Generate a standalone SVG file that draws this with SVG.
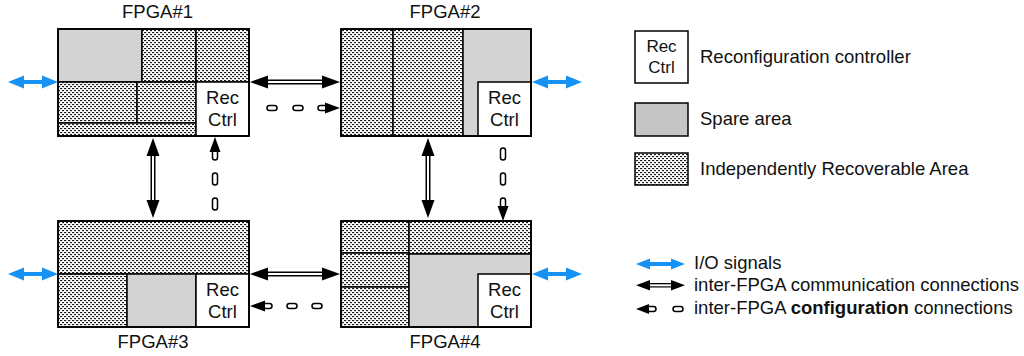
<svg xmlns="http://www.w3.org/2000/svg" width="1024" height="356" viewBox="0 0 1024 356">
  <defs>
    <!-- staggered dash texture for independently recoverable areas -->
    <pattern id="ira" width="4" height="4" patternUnits="userSpaceOnUse">
      <rect width="4" height="4" fill="#ffffff"/>
      <rect x="0" y="0" width="2.2" height="1.15" fill="#1a1a1a"/>
      <rect x="2" y="2" width="2.2" height="1.15" fill="#1a1a1a"/>
    </pattern>
    <style>
      .ira { fill: url(#ira); stroke: #000; stroke-width: 1.5; }
      .spare { fill: #d3d3d3; stroke: #000; stroke-width: 1.5; }
      .rec { fill: #ffffff; stroke: #000; stroke-width: 1.5; }
      .frame { fill: none; stroke: #000; stroke-width: 1.8; }
      text { font-family: "Liberation Sans", Arial, sans-serif; font-size: 18.5px; fill: #111; }
      .mid { text-anchor: middle; }
      .io { fill: #1692f4; }
      .head { fill: #000; }
      .shaft { fill: #000; }
      .inner { fill: #fff; }
      .cap { fill: #fff; stroke: #000; stroke-width: 1.5; }
    </style>
  </defs>

  <rect width="1024" height="356" fill="#ffffff"/>

  <!-- FPGA#1 -->
  <g id="fpga1">
    <rect class="spare" x="58" y="29" width="84" height="53"/>
    <rect class="ira" x="142" y="29" width="54" height="53"/>
    <rect class="ira" x="196" y="29" width="53" height="53"/>
    <rect class="ira" x="58" y="82" width="79" height="41"/>
    <rect class="ira" x="137" y="82" width="59" height="41"/>
    <rect class="ira" x="58" y="123" width="138" height="13"/>
    <rect class="rec" x="196" y="82" width="53" height="54"/>
    <rect class="frame" x="58" y="29" width="191" height="107"/>
    <text class="mid" x="222.5" y="104">Rec</text>
    <text class="mid" x="222.5" y="126">Ctrl</text>
    <text class="mid" x="157.5" y="18">FPGA#1</text>
  </g>

  <!-- FPGA#2 -->
  <g id="fpga2">
    <rect class="ira" x="341" y="29" width="52" height="107"/>
    <rect class="ira" x="393" y="29" width="70" height="107"/>
    <rect class="spare" x="463" y="29" width="68" height="107"/>
    <rect class="rec" x="478" y="82" width="53" height="54"/>
    <rect class="frame" x="341" y="29" width="190" height="107"/>
    <text class="mid" x="504.5" y="104">Rec</text>
    <text class="mid" x="504.5" y="126">Ctrl</text>
    <text class="mid" x="445" y="18">FPGA#2</text>
  </g>

  <!-- FPGA#3 -->
  <g id="fpga3">
    <rect class="ira" x="58" y="221" width="191" height="53"/>
    <rect class="ira" x="58" y="274" width="69" height="53"/>
    <rect class="spare" x="127" y="274" width="69" height="53"/>
    <rect class="rec" x="196" y="274" width="53" height="53"/>
    <rect class="frame" x="58" y="221" width="191" height="106"/>
    <text class="mid" x="222.5" y="296">Rec</text>
    <text class="mid" x="222.5" y="318">Ctrl</text>
    <text class="mid" x="153" y="348">FPGA#3</text>
  </g>

  <!-- FPGA#4 -->
  <g id="fpga4">
    <rect class="ira" x="341" y="221" width="68" height="32"/>
    <rect class="ira" x="341" y="253" width="68" height="34"/>
    <rect class="ira" x="341" y="287" width="68" height="40"/>
    <rect class="ira" x="409" y="221" width="122" height="33"/>
    <rect class="spare" x="409" y="254" width="122" height="73"/>
    <rect class="rec" x="478" y="274" width="53" height="53"/>
    <rect class="frame" x="341" y="221" width="190" height="106"/>
    <text class="mid" x="504.5" y="296">Rec</text>
    <text class="mid" x="504.5" y="318">Ctrl</text>
    <text class="mid" x="445" y="348">FPGA#4</text>
  </g>

  <!-- connectors -->
  <g id="connectors">
    <!-- I/O signals -->
    <polygon class="io" points="8,82 24,75.5 24,80 42,80 42,75.5 58,82 42,88.5 42,84 24,84 24,88.5"/>
    <polygon class="io" points="532,82 548,75.5 548,80 566,80 566,75.5 582,82 566,88.5 566,84 548,84 548,88.5"/>
    <polygon class="io" points="8,274 24,267.5 24,272 42,272 42,267.5 58,274 42,280.5 42,276 24,276 24,280.5"/>
    <polygon class="io" points="532,274 548,267.5 548,272 566,272 566,267.5 582,274 566,280.5 566,276 548,276 548,280.5"/>

    <!-- communication links, FPGA#1 - FPGA#2 -->
    <rect class="shaft" x="264" y="79.5" width="62" height="5"/>
    <rect class="inner" x="266" y="81" width="58" height="2"/>
    <polygon class="head" points="250,82 268,75.5 268,88.5"/>
    <polygon class="head" points="340,82 322,75.5 322,88.5"/>

    <!-- FPGA#3 - FPGA#4 -->
    <rect class="shaft" x="264" y="271.5" width="62" height="5"/>
    <rect class="inner" x="266" y="273" width="58" height="2"/>
    <polygon class="head" points="250,274 268,267.5 268,280.5"/>
    <polygon class="head" points="340,274 322,267.5 322,280.5"/>

    <!-- FPGA#1 - FPGA#3 -->
    <rect class="shaft" x="150.5" y="152" width="5" height="52"/>
    <rect class="inner" x="152" y="154" width="2" height="48"/>
    <polygon class="head" points="153,138 146.5,156 159.5,156"/>
    <polygon class="head" points="153,218 146.5,200 159.5,200"/>

    <!-- FPGA#2 - FPGA#4 -->
    <rect class="shaft" x="425.5" y="152" width="5" height="52"/>
    <rect class="inner" x="427" y="154" width="2" height="48"/>
    <polygon class="head" points="428,138 421.5,156 434.5,156"/>
    <polygon class="head" points="428,218 421.5,200 434.5,200"/>

    <!-- configuration links -->
    <rect class="cap" x="267" y="105.5" width="10" height="5" rx="2.5"/>
    <rect class="cap" x="293" y="105.5" width="10" height="5" rx="2.5"/>
    <rect class="cap" x="318" y="105.5" width="10" height="5" rx="2.5"/>
    <polygon class="head" points="325,102.5 340,108 325,113.5"/>

    <rect class="cap" x="261" y="303.5" width="11" height="5" rx="2.5"/>
    <rect class="cap" x="287" y="303.5" width="10" height="5" rx="2.5"/>
    <rect class="cap" x="312" y="303.5" width="10" height="5" rx="2.5"/>
    <polygon class="head" points="250,306 265,300.5 265,311.5"/>

    <rect class="cap" x="212.5" y="148" width="5" height="12" rx="2.5"/>
    <rect class="cap" x="212.5" y="173" width="5" height="12" rx="2.5"/>
    <rect class="cap" x="212.5" y="198" width="5" height="12" rx="2.5"/>
    <polygon class="head" points="215,137 209.5,152 220.5,152"/>

    <rect class="cap" x="500.5" y="148" width="5" height="12" rx="2.5"/>
    <rect class="cap" x="500.5" y="173" width="5" height="12" rx="2.5"/>
    <rect class="cap" x="500.5" y="198" width="5" height="12" rx="2.5"/>
    <polygon class="head" points="497.5,206 508.5,206 503,221"/>
  </g>

  <!-- legend -->
  <g id="legend">
    <rect class="rec" x="635" y="31" width="53" height="52"/>
    <text class="mid" x="661.5" y="52" style="font-size:17px">Rec</text>
    <text class="mid" x="661.5" y="73" style="font-size:17px">Ctrl</text>
    <text x="700" y="63">Reconfiguration controller</text>

    <rect class="spare" x="635" y="103" width="53" height="33" style="fill:#c6c6c6"/>
    <text x="700" y="125">Spare area</text>

    <rect class="ira" x="635" y="153" width="53" height="32"/>
    <text x="700" y="175">Independently Recoverable Area</text>

    <polygon class="io" points="636,264 650,258.5 650,262 671,262 671,258.5 685,264 671,269.5 671,266 650,266 650,269.5"/>
    <text x="694" y="269">I/O signals</text>

    <rect class="shaft" x="647" y="283" width="27" height="4.5"/>
    <rect class="inner" x="649" y="284.3" width="23" height="2"/>
    <polygon class="head" points="636,285.2 650,280 650,290.4"/>
    <polygon class="head" points="685,285.2 671,280 671,290.4"/>
    <text x="694" y="291">inter-FPGA communication connections</text>

    <rect class="cap" x="645" y="306.5" width="11" height="5" rx="2.5"/>
    <rect class="cap" x="673" y="306.5" width="10" height="5" rx="2.5"/>
    <polygon class="head" points="636,309 649,304 649,314"/>
    <text x="694" y="314">inter-FPGA <tspan font-weight="bold">configuration</tspan> connections</text>
  </g>
</svg>
